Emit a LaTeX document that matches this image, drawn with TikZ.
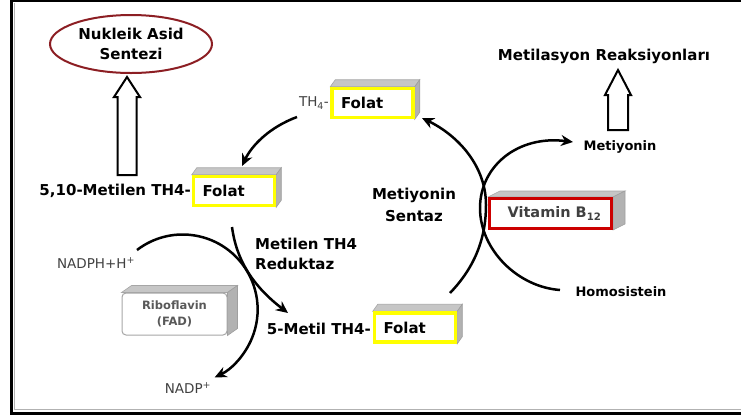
\documentclass[tikz,border=0pt]{standalone}
\usepackage{fontspec}
\setmainfont{DejaVu Sans}
\usetikzlibrary{arrows.meta,shapes.geometric,calc,backgrounds}
\definecolor{ellred}{RGB}{140,30,35}
\definecolor{boxred}{RGB}{204,0,0}
\definecolor{boxyel}{RGB}{255,255,0}
\newcommand\cubefaces[4][gray]{% node, dx, dy (up)
  \fill[#1!45, draw=#1!70, line width=0.6pt] (#2.north west) -- ++(#3,-#4) -- ([shift={(#3,-#4)}]#2.north east) -- (#2.north east) -- cycle;
  \fill[#1!60, draw=#1!75, line width=0.6pt] (#2.north east) -- ++(#3,-#4) -- ([shift={(#3,-#4)}]#2.south east) -- (#2.south east) -- cycle;
}
\begin{document}
\begin{tikzpicture}[x=1pt,y=-1pt,
  lbl/.style={font=\fontsize{15}{22}\selectfont\bfseries, inner sep=0pt},
  sm/.style={font=\fontsize{13}{16}\selectfont\bfseries, inner sep=0pt},
  thinlbl/.style={font=\fontsize{13.5}{16}\selectfont, text=black!75, inner sep=0pt},
  folat/.style={draw=boxyel, line width=3.5pt, fill=white, minimum width=81pt, minimum height=29pt,
    inner xsep=9pt, inner ysep=0pt, text width=63pt, align=left, font=\fontsize{15}{18}\selectfont\bfseries},
  vit/.style={draw=boxred, line width=3pt, fill=white, minimum width=122pt, minimum height=30pt,
    inner sep=0pt, text=black!75, font=\fontsize{14.5}{16}\selectfont\bfseries},
  ribo/.style={draw=gray!70, line width=1pt, rounded corners=4pt, fill=white, minimum width=105pt,
    minimum height=42pt, inner sep=0pt, align=center, text=black!65, font=\fontsize{11.5}{16}\selectfont\bfseries},
  ell/.style={ellipse, draw=ellred, line width=2pt, fill=white, minimum width=162pt, minimum height=58pt,
    inner sep=0pt, align=center, font=\fontsize{15}{20}\selectfont\bfseries},
  flow/.style={line width=2.5pt, -{Stealth[length=12pt,width=11pt]}},
  hollow/.style={draw, line width=2pt, fill=white, line join=miter}
]
\useasboundingbox (0,0) rectangle (741,416);
% frame
\draw[line width=2pt] (11,1) -- (745,1);
\draw[line width=3pt] (11,0) -- (11,413) -- (745,413);
\draw[gray!60, line width=1pt] (14,3) -- (14,409.5) -- (745,409.5);

% nodes
\node[ell] (nas) at (131,44) {Nukleik Asid\\Sentezi};
\node[lbl, anchor=east] (m510) at (191,191) {5,10-Metilen TH4-};
\node[folat] (f1) at (234,191) {Folat};
\node[thinlbl, anchor=east] (th4) at (329,103) {TH\textsubscript{4}-};
\node[folat] (f2) at (372.5,103) {Folat};
\node[lbl, anchor=east] (m5) at (371,329) {5-Metil TH4-};
\node[folat] (f3) at (415,327.5) {Folat};
\node[lbl, align=center] (ms) at (414,205) {Metiyonin\\Sentaz};
\node[lbl, align=left, anchor=west, font=\fontsize{15}{20}\selectfont\bfseries] (mr) at (255,254) {Metilen TH4\\Reduktaz};
\node[vit] (b12) at (550.5,213.5) {\hspace*{8pt}Vitamin B\textsubscript{12}};
\node[sm] (met) at (620,147) {Metiyonin};
\node[lbl] (mreak) at (604,56) {Metilasyon Reaksiyonları};
\node[sm] (hcy) at (621,292) {Homosistein};
\node[thinlbl] (nadph) at (96,263) {NADPH+H\textsuperscript{+}};
\node[thinlbl] (nadp) at (188,388) {NADP\textsuperscript{+}};
\node[ribo] (rib) at (174.5,314) {Riboflavin\\(FAD)};

\begin{scope}[on background layer]
  \cubefaces{f1}{5}{7}
  \cubefaces{f2}{5}{7}
  \cubefaces{f3}{5}{7}
  \cubefaces{b12}{12}{6}
  \cubefaces{rib}{10}{7}
\end{scope}

% hollow arrows
\coordinate (ha1) at (127,175);
\coordinate (ha2) at (618,130);
\draw[hollow, shift={(ha1)}] (-9.5,0) -- (-9.5,-78) -- (-13,-78) -- (0,-98) -- (13,-78) -- (9.5,-78) -- (9.5,0) -- cycle;
\draw[hollow, shift={(ha2)}] (-10,0) -- (-10,-35) -- (-13,-35) -- (0,-60) -- (13,-35) -- (10,-35) -- (10,0) -- cycle;

% curved connectors
\coordinate (c1s) at (297,117);
\coordinate (c1e) at (242,166);
\draw[flow] (c1s) .. controls (270,127) and (252,145) .. (c1e);

\coordinate (a1s) at (450,293);
\coordinate (a1m) at (486,205);
\coordinate (a1e) at (422,118);
\draw[flow] (a1s) .. controls (477,265) and (486,235) .. (a1m) .. controls (486,165) and (457,135) .. (a1e);

\coordinate (a2s) at (560,290);
\coordinate (a2m) at (480,208);
\coordinate (a2e) at (573,142);
\draw[flow] (a2s) .. controls (518,287) and (480,250) .. (a2m) .. controls (480,166) and (518,135) .. (a2e);

\coordinate (r1s) at (232,227);
\coordinate (r1e) at (288,313);
\draw[flow] (r1s) .. controls (237,265) and (258,290) .. (r1e);

\coordinate (n1s) at (137,250);
\draw[flow] (n1s) arc[start angle=232.5, end angle=424.7, radius=75];
\end{tikzpicture}
\end{document}
